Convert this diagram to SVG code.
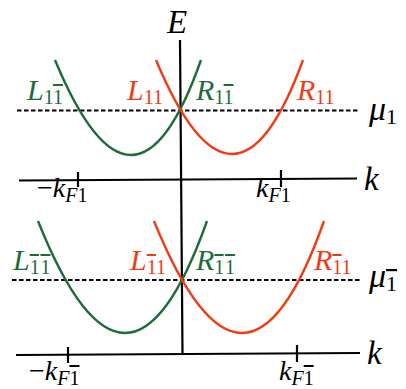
<svg xmlns="http://www.w3.org/2000/svg" width="406" height="389" viewBox="0 0 406 389">
<style>
.ax{stroke:#000;stroke-width:2.2;fill:none}
.dash{stroke:#000;stroke-width:2;stroke-dasharray:4.5 2.5;fill:none}
.g{stroke:#1e6b3c;stroke-width:2.4;fill:none}
.r{stroke:#f03c14;stroke-width:2.4;fill:none}
text{font-family:"Liberation Serif","DejaVu Serif",serif}
.m{font-style:italic;fill:#000}
.s{font-style:normal}
.o{font-style:normal;text-decoration:overline}
.gt{fill:#1e6b3c}
.rt{fill:#f03c14}
</style>
<rect width="406" height="389" fill="#fff"/>
<g id="connectors">
<path class="ax" d="M180 40 L182.5 353"/>
<path class="ax" d="M19 180.5 L357 178.5"/>
<path class="ax" d="M78 172 V187 M281 170 V187"/>
<path class="dash" d="M17 110.5 H358"/>
<path class="ax" d="M16 355 L360 353"/>
<path class="ax" d="M68 347 V363 M297 345 V362"/>
<path class="dash" d="M12 280 H360"/>
</g>
<g id="band-top-green"><path class="g" d="M55 60 Q134 250 201 60"/></g>
<g id="band-top-red"><path class="r" d="M156 60 Q234.5 248 303 60"/></g>
<g id="band-bot-green"><path class="g" d="M38 221 Q127.5 445 207 221"/></g>
<g id="band-bot-red"><path class="r" d="M154 221 Q245 445 324 221"/></g>
<g id="labels">
<text class="m" x="167" y="33" font-size="33">E</text>
<text class="m" x="364" y="190" font-size="33">k</text>
<text class="m" x="367" y="364" font-size="33">k</text>
<text class="m" x="369" y="120" font-size="34">μ<tspan class="s" font-size="22" dy="4">1</tspan></text>
<text class="m" x="369" y="287" font-size="34">μ<tspan class="o" font-size="22" dy="4">1</tspan></text>
<text class="m" x="37" y="197" font-size="28"><tspan class="s">−</tspan>k<tspan font-size="20" dy="5">F</tspan><tspan class="s" font-size="20">1</tspan></text>
<text class="m" x="256" y="197" font-size="28">k<tspan font-size="20" dy="5">F</tspan><tspan class="s" font-size="20">1</tspan></text>
<text class="m" x="29" y="380" font-size="28"><tspan class="s">−</tspan>k<tspan font-size="20" dy="5">F</tspan><tspan class="o" font-size="20">1</tspan></text>
<text class="m" x="279" y="380" font-size="28">k<tspan font-size="20" dy="5">F</tspan><tspan class="o" font-size="20">1</tspan></text>
<text class="m gt" x="27" y="100" font-size="30">L<tspan class="s" font-size="20" dy="4">1</tspan><tspan class="o" font-size="20">1</tspan></text>
<text class="m rt" x="127" y="100" font-size="30">L<tspan class="s" font-size="20" dy="4">11</tspan></text>
<text class="m gt" x="196" y="100" font-size="30">R<tspan class="s" font-size="20" dy="4">1</tspan><tspan class="o" font-size="20">1</tspan></text>
<text class="m rt" x="297" y="100" font-size="30">R<tspan class="s" font-size="20" dy="4">11</tspan></text>
<text class="m gt" x="13" y="270" font-size="30">L<tspan class="o" font-size="20" dy="4">1</tspan><tspan class="o" font-size="20" dx="1.5">1</tspan></text>
<text class="m rt" x="130" y="270" font-size="30">L<tspan class="o" font-size="20" dy="4">1</tspan><tspan class="s" font-size="20">1</tspan></text>
<text class="m gt" x="196" y="270" font-size="30">R<tspan class="o" font-size="20" dy="4">1</tspan><tspan class="o" font-size="20" dx="1.5">1</tspan></text>
<text class="m rt" x="314" y="270" font-size="30">R<tspan class="o" font-size="20" dy="4">1</tspan><tspan class="s" font-size="20">1</tspan></text>
</g>
</svg>
